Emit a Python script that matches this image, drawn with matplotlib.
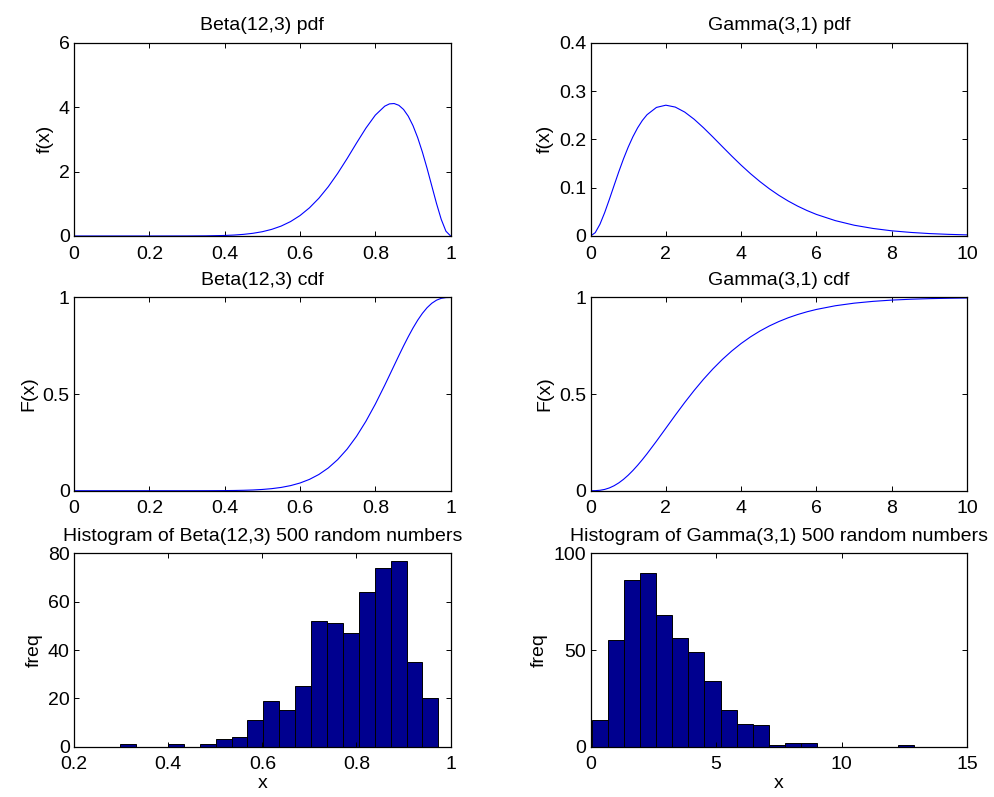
import matplotlib
matplotlib.use("Agg")
import matplotlib.pyplot as plt
import numpy as np

plt.rcParams['font.family'] = ['Liberation Sans', 'DejaVu Sans']
plt.rcParams['font.size'] = 14

# Beta(12,3) pdf / cdf
beta_x = [0, 0.1, 0.2, 0.3, 0.35, 0.4, 0.425, 0.45, 0.475, 0.5, 0.525, 0.55, 0.575,
          0.6, 0.625, 0.65, 0.675, 0.7, 0.725, 0.75, 0.775, 0.8, 0.825, 0.8375,
          0.85, 0.8625, 0.875, 0.8875, 0.9, 0.9125, 0.925, 0.9375, 0.95, 0.9625,
          0.975, 0.9875, 1.0]
beta_pdf = [0, 0, 0, 0.001, 0.0045, 0.0165, 0.0295, 0.0506, 0.0836, 0.133, 0.206, 0.308,
            0.448, 0.634, 0.873, 1.170, 1.528, 1.943, 2.401, 2.883, 3.348, 3.752,
            4.030, 4.101, 4.112, 4.057, 3.928, 3.718, 3.427, 3.053, 2.605, 2.097,
            1.553, 1.009, 0.517, 0.149, 0]
beta_cdf = [0, 0, 0, 0, 0.0001, 0.0006, 0.0012, 0.0022, 0.0038, 0.0065, 0.0107, 0.017,
            0.0264, 0.0398, 0.0585, 0.0839, 0.1175, 0.1608, 0.215, 0.2811, 0.3591,
            0.448, 0.5457, 0.5967, 0.6479, 0.6990, 0.7491, 0.7968, 0.8416, 0.8822,
            0.9176, 0.9471, 0.9699, 0.9859, 0.9954, 0.9993, 1.0]

# Gamma(3,1) pdf / cdf
gam_x = [0, 0.125, 0.25, 0.375, 0.5, 0.625, 0.75, 0.875, 1, 1.125, 1.25, 1.375, 1.5,
         1.75, 2, 2.25, 2.5, 2.75, 3, 3.25, 3.5, 3.75, 4, 4.25, 4.5, 4.75, 5, 5.25,
         5.5, 5.75, 6, 6.5, 7, 7.5, 8, 8.5, 9, 9.5, 10]
gam_pdf = [0, 0.0069, 0.0243, 0.0483, 0.0758, 0.1045, 0.1329, 0.1596, 0.1839, 0.2054,
           0.2238, 0.2390, 0.2510, 0.2661, 0.2707, 0.2668, 0.2565, 0.2417, 0.2240,
           0.2048, 0.1850, 0.1654, 0.1465, 0.1288, 0.1125, 0.0976, 0.0842, 0.0723,
           0.0618, 0.0526, 0.0446, 0.0318, 0.0223, 0.0156, 0.0107, 0.0074, 0.0050,
           0.0034, 0.0023]
gam_cdf = [0, 0.0003, 0.0022, 0.0067, 0.0144, 0.0257, 0.0405, 0.0588, 0.0803, 0.1047,
           0.1316, 0.1605, 0.1912, 0.2561, 0.3233, 0.3907, 0.4562, 0.5185, 0.5768,
           0.6304, 0.6792, 0.7229, 0.7619, 0.7963, 0.8264, 0.8527, 0.8753, 0.8949,
           0.9116, 0.9259, 0.9380, 0.9570, 0.9704, 0.9797, 0.9863, 0.9907, 0.9938,
           0.9958, 0.9972]

# histograms of 500 random numbers (20 bins each)
beta_range = (0.298, 0.974)
beta_counts = [1, 0, 0, 1, 0, 1, 3, 4, 11, 19, 15, 25, 52, 51, 47, 64, 74, 77, 35, 20]
gam_range = (0.05, 12.87)
gam_counts = [14, 55, 86, 90, 68, 56, 49, 34, 19, 12, 11, 1, 2, 2, 0, 0, 0, 0, 0, 1]

fig = plt.figure(figsize=(9.95, 7.97), dpi=100)
left_x, right_x, w = 0.0744, 0.5935, 0.3785
rows = [0.7039, 0.3843, 0.0631]
h = 0.2425


def style(ax):
    ax.tick_params(direction='in', top=True, right=True, length=3.5, width=0.7,
                   labelsize=14)
    ax.tick_params(axis='x', pad=7)
    ax.tick_params(axis='y', pad=3)
    for s in ax.spines.values():
        s.set_linewidth(0.9)


ax = fig.add_axes([left_x, rows[0], w, h])
ax.plot(beta_x, beta_pdf, color='blue', lw=0.8)
ax.set_xlim(0, 1); ax.set_ylim(0, 6)
ax.set_xticks([0, 0.2, 0.4, 0.6, 0.8, 1]); ax.set_xticklabels(['0', '0.2', '0.4', '0.6', '0.8', '1'])
ax.set_yticks([0, 2, 4, 6])
ax.set_ylabel('f(x)'); ax.set_title('Beta(12,3) pdf', fontsize=14, pad=9)
style(ax)

ax = fig.add_axes([right_x, rows[0], w, h])
ax.plot(gam_x, gam_pdf, color='blue', lw=0.8)
ax.set_xlim(0, 10); ax.set_ylim(0, 0.4)
ax.set_xticks([0, 2, 4, 6, 8, 10])
ax.set_yticks([0, 0.1, 0.2, 0.3, 0.4]); ax.set_yticklabels(['0', '0.1', '0.2', '0.3', '0.4'])
ax.set_ylabel('f(x)'); ax.set_title('Gamma(3,1) pdf', fontsize=14, pad=9)
style(ax)

ax = fig.add_axes([left_x, rows[1], w, h])
ax.plot(beta_x, beta_cdf, color='blue', lw=0.8)
ax.set_xlim(0, 1); ax.set_ylim(0, 1)
ax.set_xticks([0, 0.2, 0.4, 0.6, 0.8, 1]); ax.set_xticklabels(['0', '0.2', '0.4', '0.6', '0.8', '1'])
ax.set_yticks([0, 0.5, 1]); ax.set_yticklabels(['0', '0.5', '1'])
ax.set_ylabel('F(x)'); ax.set_title('Beta(12,3) cdf', fontsize=14, pad=9)
style(ax)

ax = fig.add_axes([right_x, rows[1], w, h])
ax.plot(gam_x, gam_cdf, color='blue', lw=0.8)
ax.set_xlim(0, 10); ax.set_ylim(0, 1)
ax.set_xticks([0, 2, 4, 6, 8, 10])
ax.set_yticks([0, 0.5, 1]); ax.set_yticklabels(['0', '0.5', '1'])
ax.set_ylabel('F(x)'); ax.set_title('Gamma(3,1) cdf', fontsize=14, pad=9)
style(ax)

bar_col = (0, 0, 0.5625)

ax = fig.add_axes([left_x, rows[2], w, h])
edges = np.linspace(beta_range[0], beta_range[1], len(beta_counts) + 1)
ax.bar(edges[:-1], beta_counts, width=np.diff(edges), align='edge',
       color=bar_col, edgecolor='black', linewidth=0.7)
ax.set_xlim(0.2, 1); ax.set_ylim(0, 80)
ax.set_xticks([0.2, 0.4, 0.6, 0.8, 1]); ax.set_xticklabels(['0.2', '0.4', '0.6', '0.8', '1'])
ax.set_yticks([0, 20, 40, 60, 80])
ax.set_xlabel('x', labelpad=1); ax.set_ylabel('freq')
ax.set_title('Histogram of Beta(12,3) 500 random numbers', fontsize=14, pad=9)
style(ax)

ax = fig.add_axes([right_x, rows[2], w, h])
edges = np.linspace(gam_range[0], gam_range[1], len(gam_counts) + 1)
ax.bar(edges[:-1], gam_counts, width=np.diff(edges), align='edge',
       color=bar_col, edgecolor='black', linewidth=0.7)
ax.set_xlim(0, 15); ax.set_ylim(0, 100)
ax.set_xticks([0, 5, 10, 15])
ax.set_yticks([0, 50, 100])
ax.set_xlabel('x', labelpad=1); ax.set_ylabel('freq')
ax.set_title('Histogram of Gamma(3,1) 500 random numbers', fontsize=14, pad=9)
style(ax)

fig.savefig('out.png', dpi=100)
